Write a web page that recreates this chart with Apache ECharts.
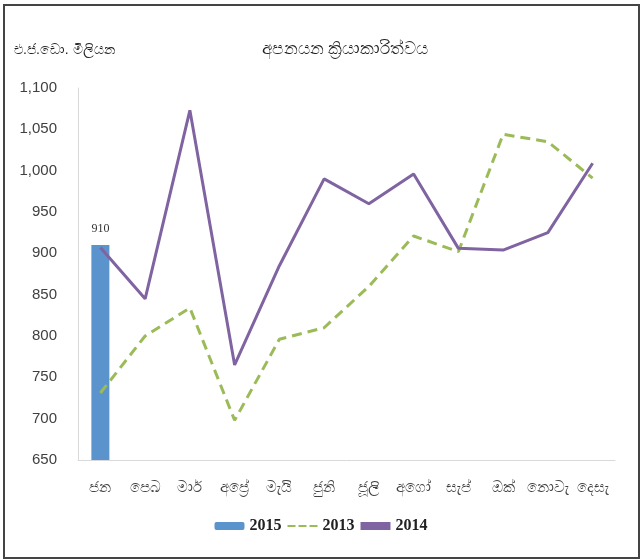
<!DOCTYPE html>
<html>
<head>
<meta charset="utf-8">
<script src="https://cdn.jsdelivr.net/npm/echarts@6/dist/echarts.min.js"></script>
<style>
    html, body { margin: 0; padding: 0; background: #fff; }
    #frame { position: absolute; left: 3px; top: 4px; width: 633px; height: 551px; border: 2px solid #444; box-sizing: content-box; }
    #chart { position: absolute; left: 0; top: 0; width: 642px; height: 559px; }
</style>
</head>
<body>
<div id="frame"></div>
<div id="chart"></div>
<script>
/**
 * DATA
 */
var months = ['ජන', 'පෙබ', 'මාර්', 'අප්‍රේ', 'මැයි', 'ජුනි', 'ජූලි', 'අගෝ', 'සැප්', 'ඔක්', 'නොවැ', 'දෙසැ'];
var values2015 = [910];
var values2013 = [731, 800, 834, 698, 796, 810, 860, 921, 902, 1044, 1035, 991];
var values2014 = [907, 845, 1073, 765, 885, 990, 960, 996, 906, 904, 925, 1009];
var yTicks = {min: 650, max: 1100, interval: 50};

var chart = echarts.init(document.getElementById('chart'));
var options = {
    animation: false,
    textStyle: {fontFamily: 'Liberation Sans, Noto Sans, sans-serif'},
    title: [
        {
            text: 'අපනයන ක්‍රියාකාරිත්වය',
            left: 340, top: 36, textAlign: 'center',
            textStyle: {fontSize: 17, fontWeight: 'normal', color: '#222'}
        },
        {
            text: 'එ.ජ.ඩො. මිලියන',
            left: 9, top: 38,
            textStyle: {fontSize: 14, fontWeight: 'normal', color: '#222'}
        }
    ],
    legend: {
        bottom: 20, left: 'center',
        itemGap: 6, itemWidth: 30, itemHeight: 8,
        textStyle: {fontFamily: 'Liberation Serif, serif', fontWeight: 'bold', fontSize: 16, color: '#222'},
        data: [
            {name: '2015'},
            {name: '2013', icon: 'path://M0,0 L8,0 L8,2 L0,2 Z M11,0 L19,0 L19,2 L11,2 Z M22,0 L30,0 L30,2 L22,2 Z', itemStyle: {color: '#9bbb59'}},
            {name: '2014', icon: 'rect', itemStyle: {color: '#8064a2'}, itemHeight: 3}
        ]
    },
    grid: {left: 78, right: 27, top: 88, bottom: 99, containLabel: false},
    xAxis: {
        type: 'category',
        data: months,
        axisLine: {lineStyle: {color: '#d9d9d9'}},
        axisTick: {show: false},
        axisLabel: {color: '#404040', fontSize: 15, margin: 20, interval: 0}
    },
    yAxis: {
        type: 'value',
        min: yTicks.min, max: yTicks.max, interval: yTicks.interval,
        axisLine: {show: true, lineStyle: {color: '#d9d9d9'}},
        axisTick: {show: false},
        splitLine: {show: false},
        axisLabel: {
            color: '#404040', fontSize: 15, margin: 21,
            formatter: function (v) { return v.toLocaleString('en-US'); }
        }
    },
    series: [
        {
            name: '2015', type: 'bar', data: values2015, barWidth: 18,
            itemStyle: {color: '#5b93cc'},
            label: {show: true, position: 'top', distance: 10, fontFamily: 'Liberation Serif, serif', fontSize: 12, color: '#333'}
        },
        {
            name: '2013', type: 'line', data: values2013, symbol: 'none',
            lineStyle: {color: '#9bbb59', width: 3, type: [10, 6]}
        },
        {
            name: '2014', type: 'line', data: values2014, symbol: 'none',
            lineStyle: {color: '#8064a2', width: 3}
        }
    ]
};
chart.setOption(options);
</script>
</body>
</html>
